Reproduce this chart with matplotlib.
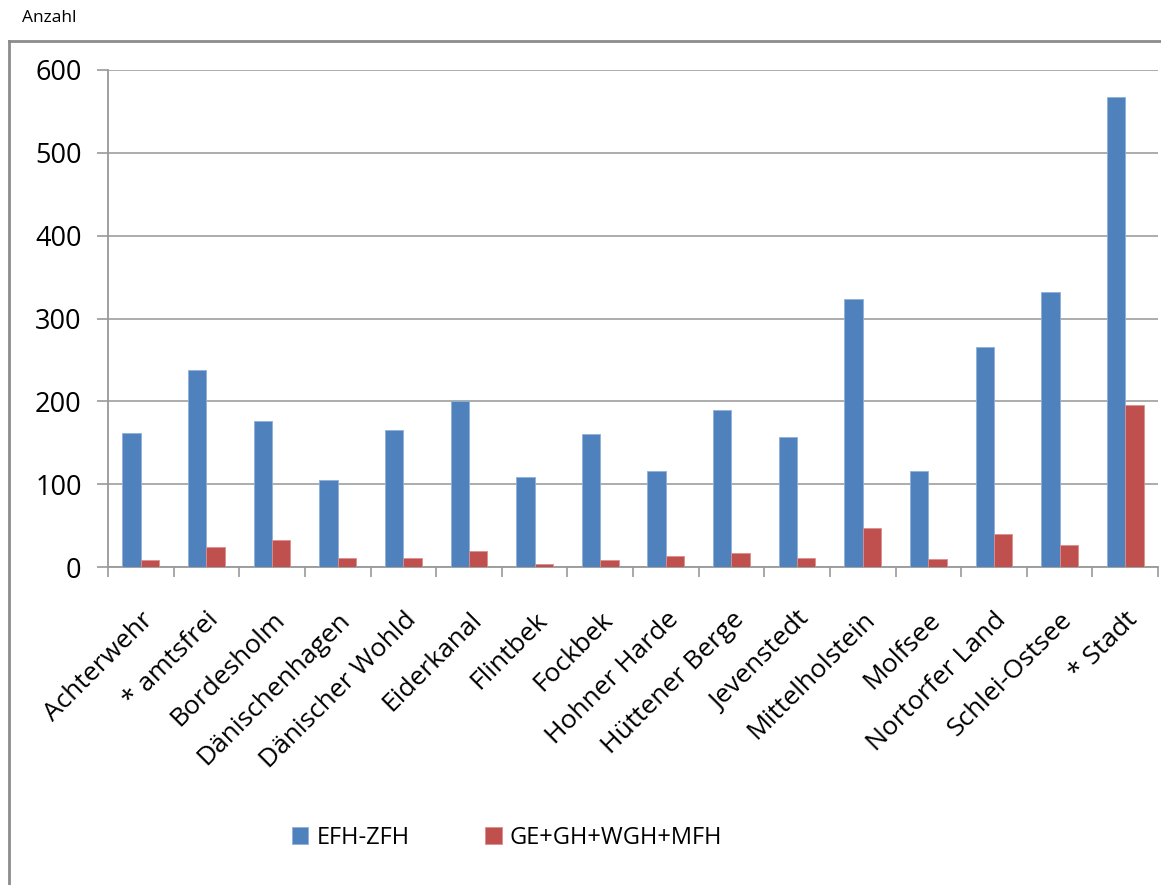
import numpy as np
import matplotlib
matplotlib.use("Agg")
import matplotlib.pyplot as plt
from matplotlib.lines import Line2D

orte = ["Achterwehr", "* amtsfrei", "Bordesholm", "Dänischenhagen", "Dänischer Wohld",
        "Eiderkanal", "Flintbek", "Fockbek", "Hohner Harde", "Hüttener Berge",
        "Jevenstedt", "Mittelholstein", "Molfsee", "Nortorfer Land", "Schlei-Ostsee", "* Stadt"]
efh_zfh = [162, 238, 176, 105, 165, 200, 109, 160, 116, 190, 157, 324, 116, 265, 332, 567]
ge_mfh = [9, 24, 33, 11, 11, 19, 4, 9, 13, 17, 11, 47, 10, 40, 26, 195]
y_ticks = [0, 100, 200, 300, 400, 500, 600]

plt.rcParams['font.family'] = ['Open Sans', 'DejaVu Sans']

fig = plt.figure(figsize=(11.61, 8.85), dpi=100)
ax = fig.add_axes([108/1161, 1 - 567/885, 1050/1161, 497/885])

x = np.arange(len(orte)) + 0.5
w = 0.28
ax.bar(x - w/2, efh_zfh, w, color='#4F81BD', edgecolor='#8fb0da', linewidth=0.6, label='EFH-ZFH', zorder=3)
ax.bar(x + w/2, ge_mfh, w, color='#C0504D', edgecolor='#dc8f8d', linewidth=0.6, label='GE+GH+WGH+MFH', zorder=3)

ax.set_xlim(0, len(orte))
ax.set_ylim(0, 600)
ax.set_yticks(y_ticks)
ax.tick_params(axis='y', length=8, width=1.2, color='#999999', labelsize=19.5, pad=11)
ax.yaxis.grid(True, color='#a6a6a6', linewidth=1.3, zorder=0)

# Excel-artige Kategorieachse: Striche zwischen den Kategorien
ax.set_xticks(np.arange(len(orte) + 1))
ax.set_xticklabels([])
ax.set_xticks(x, minor=True)
ax.set_xticklabels(orte, minor=True, rotation=45, ha='right', rotation_mode='anchor', fontsize=19)
ax.tick_params(axis='x', which='minor', length=0, pad=29)
ax.tick_params(axis='x', which='major', length=7, width=1.2, color='#999999')

for s in ['top', 'right']:
    ax.spines[s].set_visible(False)
for s in ['left', 'bottom']:
    ax.spines[s].set_color('#999999')
    ax.spines[s].set_linewidth(1.3)

fig.legend(loc='center', bbox_to_anchor=(507/1161, 1 - 838/885), ncol=2, frameon=False,
           fontsize=17, handlelength=0.7, handleheight=0.7, handletextpad=0.35, columnspacing=3.2)

fig.text(22/1161, 1 - 18/885, "Anzahl", fontsize=12.5, va='center')

# Rahmen um das Diagramm
fig.add_artist(Line2D([9/1161, 9/1161], [0, 1 - 41/885], color='#8c8c8c', linewidth=2, transform=fig.transFigure))
fig.add_artist(Line2D([9/1161, 1], [1 - 41/885, 1 - 41/885], color='#8c8c8c', linewidth=2, transform=fig.transFigure))

fig.savefig("out.png", dpi=100)
